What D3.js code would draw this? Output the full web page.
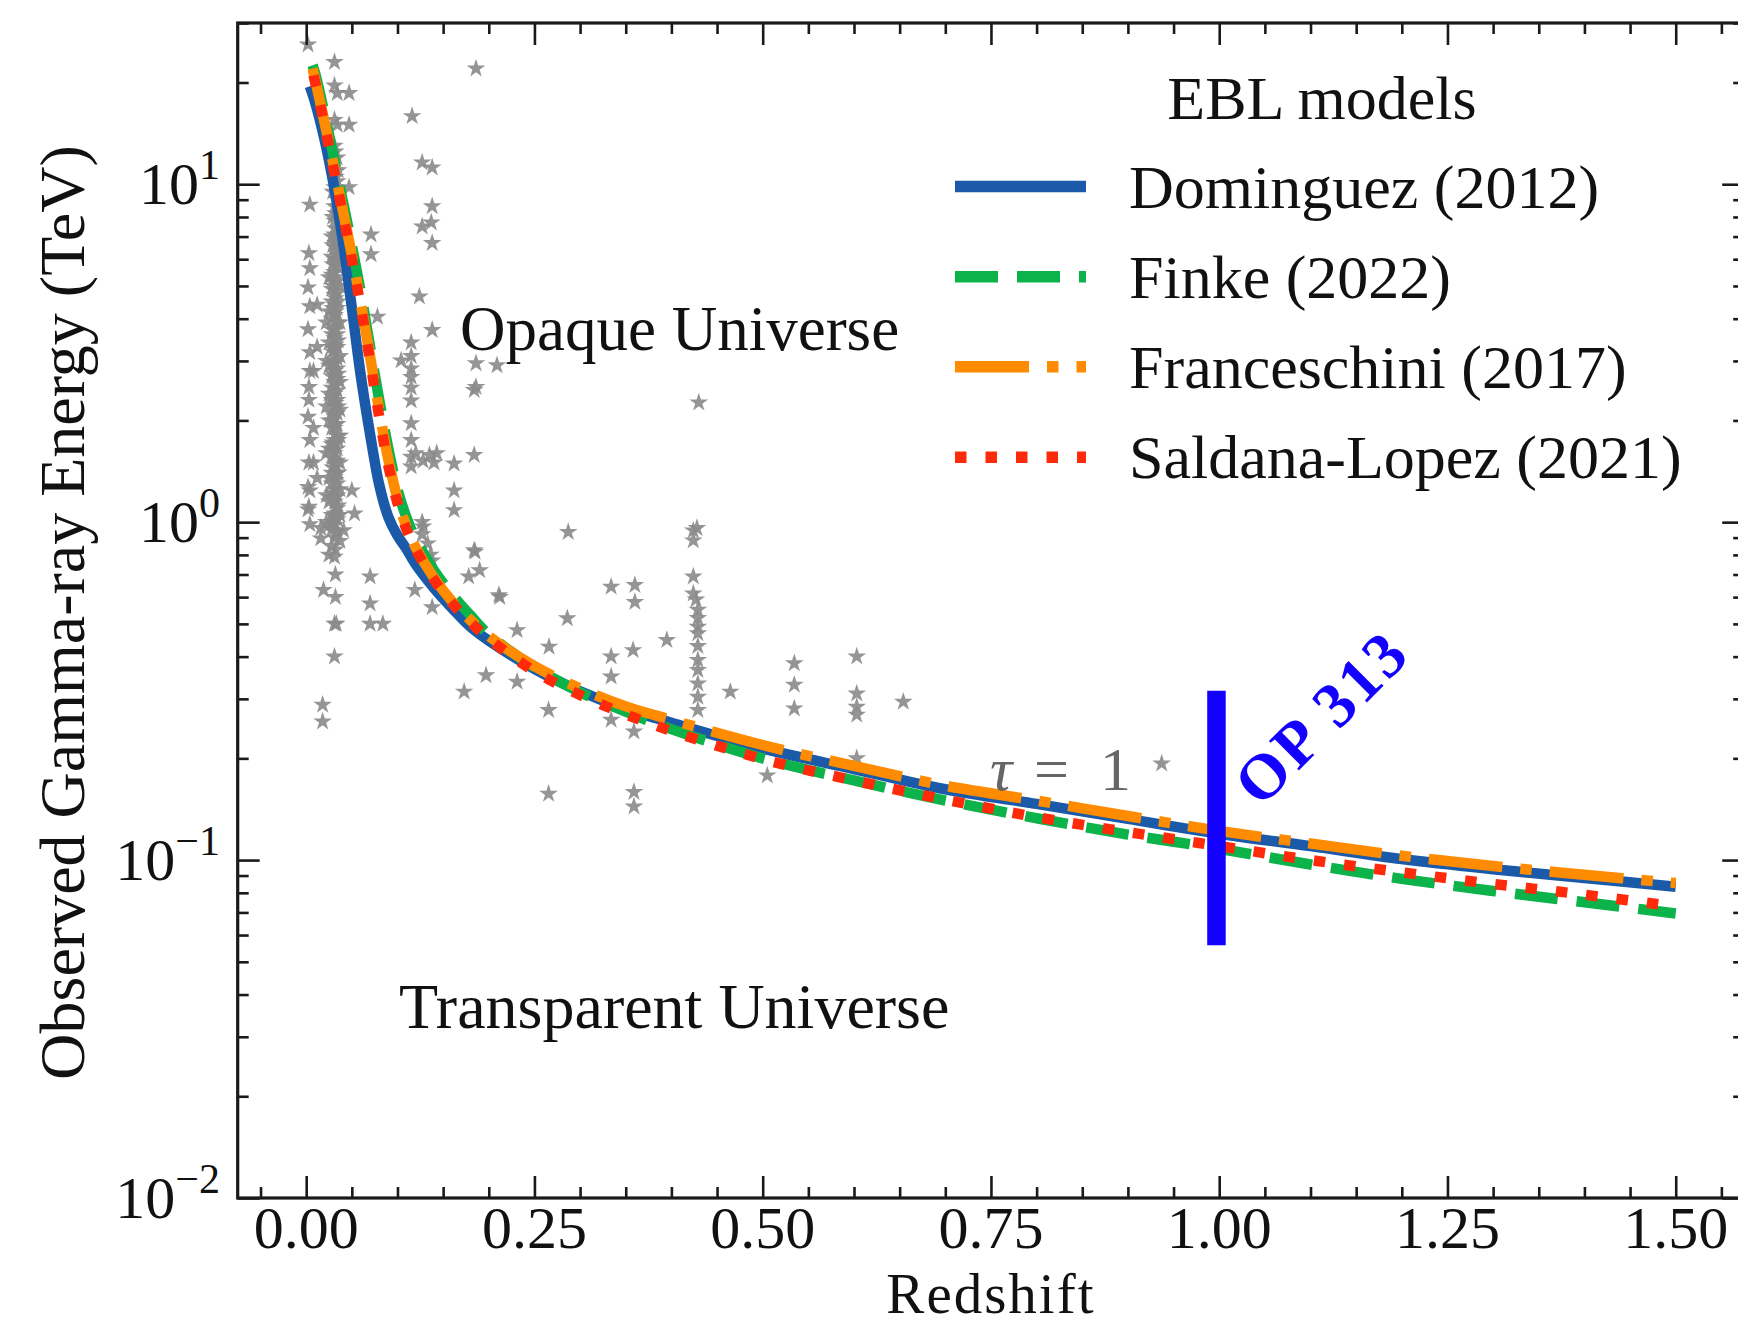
<!DOCTYPE html>
<html>
<head>
<meta charset="utf-8">
<script src="https://cdn.jsdelivr.net/npm/d3@7"></script>
<style>
  html, body { margin: 0; padding: 0; background: #fff; }
  svg { display: block; }
  text { font-family: "Liberation Serif", "Times New Roman", serif; fill: #111; }
</style>
</head>
<body>
<svg id="chart" width="1738" height="1326"></svg>
<script>
// ---- redshift grids and tau = 1 energies (TeV) for each EBL model ----
const zDominguez = [0.004, 0.01, 0.02, 0.03, 0.04, 0.05, 0.06, 0.07, 0.08, 0.09, 0.10, 0.11, 0.12, 0.14, 0.16, 0.18, 0.20, 0.25, 0.30, 0.35, 0.40, 0.50, 0.60, 0.70, 0.80, 0.90, 1.00, 1.10, 1.20, 1.30, 1.40, 1.50];
const eDominguez = [19.5, 17.4, 13.6, 10.0, 6.84, 4.31, 2.69, 1.82, 1.29, 1.035, 0.912, 0.832, 0.75, 0.638, 0.556, 0.49, 0.446, 0.368, 0.316, 0.280, 0.255, 0.214, 0.186, 0.162, 0.1466, 0.1324, 0.1197, 0.110, 0.1007, 0.094, 0.0885, 0.0834];

const zFinke = [0.007, 0.01, 0.02, 0.03, 0.04, 0.05, 0.06, 0.07, 0.08, 0.09, 0.10, 0.11, 0.12, 0.14, 0.16, 0.18, 0.20, 0.25, 0.30, 0.35, 0.40, 0.50, 0.60, 0.70, 0.80, 0.90, 1.00, 1.10, 1.20, 1.30, 1.40, 1.50];
const eFinke = [22.5, 21.2, 16.2, 12.1, 8.95, 6.6, 4.75, 3.3, 2.3, 1.65, 1.25, 1.03, 0.89, 0.72, 0.61, 0.53, 0.465, 0.372, 0.314, 0.275, 0.244, 0.200, 0.172, 0.150, 0.133, 0.119, 0.108, 0.097, 0.088, 0.081, 0.075, 0.0695];

const zFranceschini = [0.007, 0.01, 0.02, 0.03, 0.04, 0.05, 0.06, 0.07, 0.08, 0.09, 0.10, 0.11, 0.12, 0.14, 0.16, 0.18, 0.20, 0.25, 0.30, 0.35, 0.40, 0.50, 0.60, 0.70, 0.80, 0.90, 1.00, 1.10, 1.20, 1.30, 1.40, 1.50];
const eFranceschini = [22.0, 20.3, 15.3, 11.4, 8.41, 6.17, 4.42, 3.09, 2.14, 1.53, 1.175, 0.966, 0.841, 0.684, 0.582, 0.513, 0.46, 0.375, 0.322, 0.285, 0.260, 0.219, 0.190, 0.166, 0.150, 0.135, 0.122, 0.112, 0.103, 0.096, 0.0905, 0.0855];

const zSaldana = [0.008, 0.01, 0.02, 0.03, 0.04, 0.05, 0.06, 0.07, 0.08, 0.09, 0.10, 0.11, 0.12, 0.14, 0.16, 0.18, 0.20, 0.25, 0.30, 0.35, 0.40, 0.50, 0.60, 0.70, 0.80, 0.90, 1.00, 1.10, 1.20, 1.30, 1.40, 1.50];
const eSaldana = [21.0, 19.9, 15.0, 11.1, 8.2, 6.0, 4.3, 3.0, 2.05, 1.47, 1.14, 0.95, 0.83, 0.675, 0.575, 0.505, 0.452, 0.362, 0.308, 0.27, 0.241, 0.199, 0.172, 0.151, 0.134, 0.121, 0.110, 0.100, 0.092, 0.085, 0.079, 0.0728];

const modelNames = ["Dominguez (2012)", "Finke (2022)", "Franceschini (2017)", "Saldana-Lopez (2021)"];

// ---- observed VHE photons: [redshift, energy (TeV)] ----
const photons = [
  [0.002,25.9],[0.004,8.7],[0.003,6.25],[0.004,5.64],[0.002,4.95],[0.004,4.35],[0.002,3.72],[0.004,3.18],
  [0.003,2.51],[0.002,2.05],[0.004,1.24],[0.002,1.09],[0.004,0.986],[0.002,1.27],[0.003,1.11],
  [0.004,2.8],[0.003,2.3],[0.004,1.75],[0.003,1.5],[0.008,2.8],[0.008,1.9],[0.008,1.5],
  [0.012,4.4],[0.012,3.3],[0.012,1.35],
  [0.016,0.895],[0.019,0.63],[0.018,0.288],[0.018,0.257],[0.016,0.96],
  [0.022,3.9],[0.022,3.0],[0.022,2.2],[0.022,1.6],[0.022,1.2],[0.022,1.0],
  [0.031,23],[0.031,19.6],[0.031,15.5],[0.031,13],[0.031,11],[0.031,9.8],[0.031,8.6],[0.031,7.8],[0.031,7.1],
  [0.031,6.5],[0.031,6.0],[0.031,5.5],[0.031,5.1],[0.031,4.7],[0.031,4.4],[0.031,4.1],[0.031,3.8],[0.031,3.5],
  [0.031,3.25],[0.031,3.0],[0.031,2.8],[0.031,2.6],[0.031,2.4],[0.031,2.2],[0.031,2.05],[0.031,1.9],[0.031,1.75],
  [0.031,1.6],[0.031,1.48],[0.031,1.36],[0.031,1.25],[0.031,1.15],[0.031,1.06],[0.031,0.98],[0.031,0.9],
  [0.031,0.79],[0.031,0.5],[0.031,0.4],
  [0.034,18.6],[0.034,15],[0.034,12],[0.034,10.2],[0.034,9.0],[0.034,7.4],[0.034,6.8],[0.034,6.2],[0.034,5.7],
  [0.034,5.2],[0.034,4.8],[0.034,4.3],[0.034,3.9],[0.034,3.6],[0.034,3.3],[0.034,3.05],[0.034,2.85],[0.034,2.65],
  [0.034,2.45],[0.034,2.3],[0.034,2.1],[0.034,1.95],[0.034,1.8],[0.034,1.65],[0.034,1.52],[0.034,1.4],[0.034,1.3],
  [0.034,1.2],[0.034,1.1],[0.034,1.02],[0.034,0.94],
  [0.028,7.0],[0.028,6.1],[0.028,5.4],[0.028,4.9],[0.028,4.5],[0.028,4.0],[0.028,3.6],[0.028,3.3],[0.028,2.95],
  [0.028,2.7],[0.028,2.5],[0.028,2.3],[0.028,2.1],[0.028,1.9],[0.028,1.7],[0.028,1.55],[0.028,1.4],[0.028,1.3],
  [0.028,1.18],[0.028,1.05],[0.028,0.95],[0.028,0.85],
  [0.029,9.5],[0.029,8.0],[0.029,6.6],[0.029,5.8],[0.029,5.0],[0.029,4.3],[0.029,3.7],[0.029,3.2],[0.029,2.75],
  [0.029,2.35],[0.029,2.0],[0.029,1.72],[0.029,1.45],[0.029,1.22],[0.029,1.0],
  [0.032,12.5],[0.032,10.5],[0.032,8.2],[0.032,7.4],[0.032,6.7],[0.032,5.9],[0.032,5.3],[0.032,4.6],[0.032,4.2],
  [0.032,3.7],[0.032,3.35],[0.032,2.95],[0.032,2.55],[0.032,2.25],[0.032,1.95],[0.032,1.7],[0.032,1.5],[0.032,1.33],
  [0.032,1.18],[0.032,1.04],[0.032,0.93],[0.032,0.83],[0.032,0.7],[0.032,0.6],
  [0.035,11],[0.035,8.6],[0.035,6.0],[0.035,4.5],[0.035,3.45],[0.035,2.75],[0.035,2.2],[0.035,1.75],[0.035,1.4],[0.035,1.12],
  [0.025,5.3],[0.025,4.2],[0.025,3.4],[0.025,2.9],[0.025,2.4],[0.025,2.0],[0.025,1.65],[0.025,1.35],[0.025,1.15],
  [0.025,0.98],[0.025,0.8],
  [0.037,8.2],[0.037,6.4],[0.037,5.0],[0.037,3.9],[0.037,3.1],[0.037,2.6],[0.037,2.15],[0.037,1.8],[0.037,1.5],
  [0.037,1.25],[0.037,1.05],[0.037,0.88],
  [0.047,18.6],[0.047,15],[0.047,9.8],[0.05,1.24],[0.053,1.06],[0.041,0.946],[0.033,0.5],
  [0.186,22],[0.116,15.9],[0.127,11.6],[0.138,11.2],[0.138,8.6],[0.137,7.7],[0.127,7.5],[0.138,6.7],
  [0.071,7.1],[0.071,6.2],[0.124,4.65],[0.078,4.05],[0.138,3.7],
  [0.115,3.4],[0.115,3.1],[0.115,2.85],[0.115,2.69],[0.115,2.5],[0.115,2.29],[0.115,1.96],[0.115,1.75],
  [0.115,1.56],[0.115,1.46],
  [0.104,3.01],[0.186,2.95],[0.209,2.91],[0.184,2.46],[0.186,2.51],[0.43,2.26],
  [0.12,1.6],[0.128,1.52],[0.135,1.58],[0.143,1.6],[0.14,1.5],
  [0.184,1.58],[0.162,1.49],[0.162,1.24],[0.162,1.085],
  [0.127,1.0],[0.128,0.97],[0.127,0.92],[0.133,0.865],[0.136,0.8],[0.138,0.77],
  [0.287,0.935],[0.428,0.96],[0.424,0.945],[0.424,0.883],
  [0.184,0.826],[0.19,0.72],[0.178,0.69],[0.211,0.608],[0.334,0.644],[0.36,0.651],[0.36,0.58],
  [0.424,0.69],[0.424,0.615],[0.427,0.59],
  [0.286,0.519],[0.231,0.479],[0.266,0.428],[0.395,0.448],[0.358,0.418],
  [0.07,0.69],[0.07,0.574],[0.07,0.50],[0.084,0.50],[0.119,0.63],[0.138,0.56],[0.185,0.817],[0.212,0.60],
  [0.197,0.352],[0.173,0.315],[0.231,0.337],[0.2655,0.278],[0.2655,0.157],
  [0.334,0.40],[0.334,0.349],[0.359,0.24],[0.334,0.26],[0.359,0.159],[0.359,0.144],
  [0.429,0.49],[0.429,0.469],[0.429,0.43],[0.429,0.391],[0.429,0.365],[0.429,0.333],[0.429,0.304],
  [0.429,0.278],[0.429,0.52],[0.429,0.55],
  [0.4645,0.315],[0.505,0.178],[0.5346,0.382],[0.5346,0.33],[0.5346,0.281],
  [0.603,0.40],[0.603,0.311],[0.603,0.284],[0.603,0.269],[0.603,0.20],[0.654,0.294],[0.937,0.193]
];

// ---- OP 313 ----
const op313Redshift = 0.997;
const op313Energies = [0.056, 0.317];

// ---- axis ticks ----
const xMajorTicks = [0.00, 0.25, 0.50, 0.75, 1.00, 1.25, 1.50];
const xTickLabels = ["0.00", "0.25", "0.50", "0.75", "1.00", "1.25", "1.50"];
const yMajorTicks = [0.01, 0.1, 1, 10];
const yTickExponents = ["\u22122", "\u22121", "0", "1"];

// ---------------------------------------------------------------------
const svg = d3.select("#chart");
svg.append("rect").attr("width", 1738).attr("height", 1326).attr("fill", "#fff");

const plotLeft = 237.7, plotRight = 1744.2, plotTop = 23, plotBottom = 1198;
const x = d3.scaleLinear().domain([-0.075, 1.575]).range([plotLeft, plotRight]);
const y = d3.scaleLog().domain([0.01, 30]).range([plotBottom, plotTop]);

svg.append("defs").append("clipPath").attr("id", "plotclip")
  .append("rect").attr("x", plotLeft).attr("y", plotTop)
  .attr("width", plotRight - plotLeft).attr("height", plotBottom - plotTop);

const plot = svg.append("g").attr("clip-path", "url(#plotclip)");

// observed photons
plot.append("g").selectAll("path").data(photons).join("path")
  .attr("transform", d => `translate(${x(d[0])},${y(d[1])})`)
  .attr("d", d3.symbol().type(d3.symbolStar).size(108))
  .attr("fill", "#8a8a8a")
  .attr("fill-opacity", 0.9);

// EBL model curves
const models = [
  { z: zDominguez, e: eDominguez, color: "#1a5aa8", dash: null },
  { z: zFinke, e: eFinke, color: "#0cb34a", dash: "43,19" },
  { z: zFranceschini, e: eFranceschini, color: "#ff8c00", dash: "74,18,11.5,18" },
  { z: zSaldana, e: eSaldana, color: "#ff2a0a", dash: "11.5,19" }
];
const line = d3.line().x(d => x(d[0])).y(d => y(d[1])).curve(d3.curveCatmullRom.alpha(0.5));
const lw = 10.5;
models.forEach(m => {
  plot.append("path")
    .datum(m.z.map((z, i) => [z, m.e[i]]))
    .attr("d", line)
    .attr("fill", "none")
    .attr("stroke", m.color)
    .attr("stroke-width", lw)
    .attr("stroke-dasharray", m.dash)
    .attr("stroke-linecap", "butt")
    .attr("stroke-linejoin", "round");
});

// OP 313 marker
plot.append("line")
  .attr("x1", x(op313Redshift)).attr("x2", x(op313Redshift))
  .attr("y1", y(op313Energies[0])).attr("y2", y(op313Energies[1]))
  .attr("stroke", "#1400ff").attr("stroke-width", 18.5);

svg.append("text")
  .attr("transform", `translate(${x(op313Redshift) + 44},${y(op313Energies[1]) + 118}) rotate(-45)`)
  .attr("font-size", 64).attr("font-weight", "bold")
  .attr("letter-spacing", 3)
  .style("fill", "#1400ff")
  .text("OP 313");

// annotations
svg.append("text").attr("x", 460).attr("y", 350).attr("font-size", 63).text("Opaque Universe");
svg.append("text").attr("x", 399).attr("y", 1028).attr("font-size", 64).text("Transparent Universe");
const tauParts = [
  { t: "\u03C4", x: 990, italic: true },
  { t: "=", x: 1034, italic: false },
  { t: "1", x: 1100, italic: false }
];
svg.append("g").selectAll("text").data(tauParts).join("text")
  .attr("x", d => d.x).attr("y", 790).attr("font-size", 62)
  .attr("font-style", d => d.italic ? "italic" : null)
  .style("fill", "#666")
  .text(d => d.t);

// ---- axes (ticks point inward on all four sides) ----
const majorLen = 22, minorLen = 11;
const xMinor = d3.range(-0.05, 1.5501, 0.05).filter(v => !xMajorTicks.some(t => Math.abs(t - v) < 1e-6));
const yMinor = [];
[0.01, 0.1, 1, 10].forEach(dec => { for (let k = 2; k <= 9; k++) { const v = dec * k; if (v <= 30) yMinor.push(v); } });

function styleAxis(g) {
  g.select(".domain").remove();
  g.selectAll(".tick line").attr("stroke", "#1a1a1a").attr("stroke-width", 2.6);
  g.selectAll(".tick text").remove();
}
function addAxis(axisFn, scale, ticks, len, transform) {
  svg.append("g").attr("transform", transform)
    .call(axisFn(scale).tickValues(ticks).tickSize(-len).tickFormat(() => ""))
    .call(styleAxis);
}
addAxis(d3.axisBottom, x, xMajorTicks, majorLen, `translate(0,${plotBottom})`);
addAxis(d3.axisBottom, x, xMinor, minorLen, `translate(0,${plotBottom})`);
addAxis(d3.axisTop, x, xMajorTicks, majorLen, `translate(0,${plotTop})`);
addAxis(d3.axisTop, x, xMinor, minorLen, `translate(0,${plotTop})`);
addAxis(d3.axisLeft, y, yMajorTicks, majorLen, `translate(${plotLeft},0)`);
addAxis(d3.axisLeft, y, yMinor, minorLen, `translate(${plotLeft},0)`);
addAxis(d3.axisRight, y, yMajorTicks, majorLen, `translate(${plotRight},0)`);
addAxis(d3.axisRight, y, yMinor, minorLen, `translate(${plotRight},0)`);

// frame
svg.append("rect")
  .attr("x", plotLeft).attr("y", plotTop)
  .attr("width", plotRight - plotLeft).attr("height", plotBottom - plotTop)
  .attr("fill", "none").attr("stroke", "#1a1a1a").attr("stroke-width", 3.2);

// tick labels
svg.append("g").selectAll("text").data(xMajorTicks).join("text")
  .attr("x", d => x(d)).attr("y", 1248)
  .attr("text-anchor", "middle").attr("font-size", 60)
  .text((d, i) => xTickLabels[i]);

const yl = svg.append("g").selectAll("text").data(yMajorTicks).join("text")
  .attr("x", 220).attr("y", d => y(d) + 20)
  .attr("text-anchor", "end").attr("font-size", 60);
yl.append("tspan").text("10");
yl.append("tspan").attr("dy", -25).attr("font-size", 42).text((d, i) => yTickExponents[i]);

// axis titles
svg.append("text").attr("x", (plotLeft + plotRight) / 2).attr("y", 1313)
  .attr("text-anchor", "middle").attr("font-size", 57).attr("letter-spacing", 2)
  .text("Redshift");
svg.append("text")
  .attr("transform", `translate(84,${(plotTop + plotBottom) / 2 + 2}) rotate(-90)`)
  .attr("text-anchor", "middle").attr("font-size", 64)
  .text("Observed Gamma-ray Energy (TeV)");

// ---- legend ----
const legend = svg.append("g");
legend.append("text").attr("x", 1322).attr("y", 119).attr("text-anchor", "middle")
  .attr("font-size", 62).text("EBL models");
const rowY = [186.5, 276.7, 366.7, 457.3];
models.forEach((m, i) => {
  legend.append("line")
    .attr("x1", 955).attr("x2", 1086).attr("y1", rowY[i]).attr("y2", rowY[i])
    .attr("stroke", m.color).attr("stroke-width", lw + 1)
    .attr("stroke-dasharray", m.dash).attr("stroke-linecap", "butt");
  legend.append("text").attr("x", 1129).attr("y", rowY[i] + 21)
    .attr("font-size", 62).text(modelNames[i]);
});
</script>
</body>
</html>
